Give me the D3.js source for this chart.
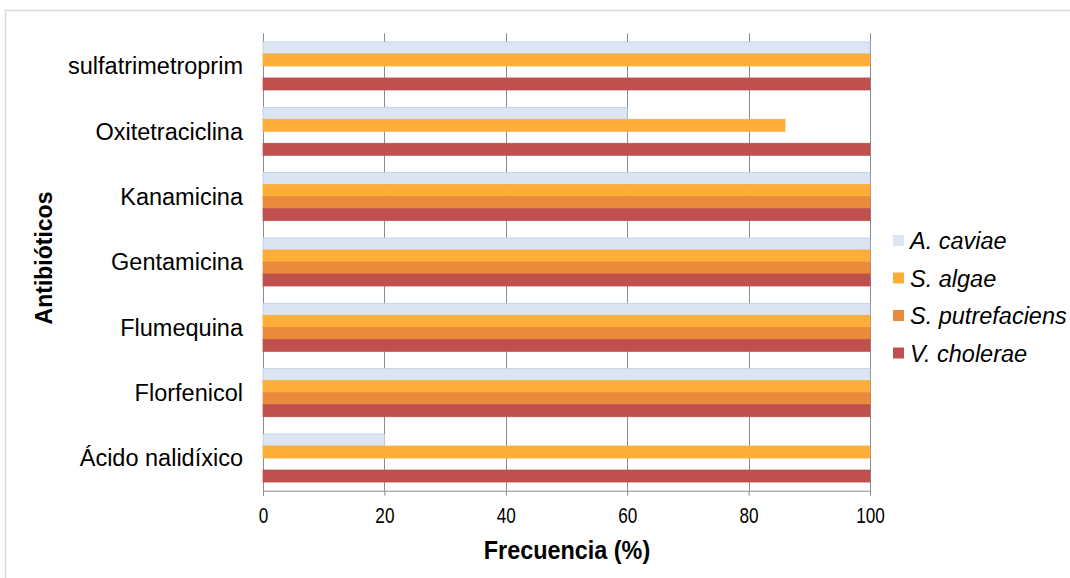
<!DOCTYPE html>
<html><head><meta charset="utf-8">
<script src="https://cdn.jsdelivr.net/npm/d3@7"></script>
<style>
body{margin:0;background:#fff;}
svg{display:block;}
.cat{font-family:"Liberation Sans",Arial,sans-serif;font-size:23.5px;fill:#000;}
.leg{font-family:"Liberation Sans",Arial,sans-serif;font-size:23.5px;font-style:italic;fill:#000;}
.tick text{font-family:"Liberation Sans",Arial,sans-serif;font-size:22px;fill:#000;}
.xt{font-family:"Liberation Sans",Arial,sans-serif;font-size:26px;font-weight:bold;}
.yt{font-family:"Liberation Sans",Arial,sans-serif;font-size:23px;font-weight:bold;}
</style></head>
<body><svg id="c" width="1070" height="578"></svg>
<script>
const categories = ["sulfatrimetroprim","Oxitetraciclina","Kanamicina","Gentamicina","Flumequina","Florfenicol","Ácido nalidíxico"];
const seriesNames = ["A. caviae","S. algae","S. putrefaciens","V. cholerae"];
const aCaviae       = [100, 60, 100, 100, 100, 100, 20];
const sAlgae        = [100, 86, 100, 100, 100, 100, 100];
const sPutrefaciens = [0, 0, 100, 100, 100, 100, 0];
const vCholerae     = [100, 100, 100, 100, 100, 100, 100];
const xTicks = [0,20,40,60,80,100];
const colors = ["#dce6f2","#fdae38","#e98b3d","#c0504d"];
const strokes = ["#b9cde5","#fdae38","#e98b3d","#c0504d"];

const seriesVals = [aCaviae, sAlgae, sPutrefaciens, vCholerae];
const svg = d3.select("#c");
const L=263, R=870, T=33.3, B=490.7;

svg.append("rect").attr("x",5.5).attr("y",10.5).attr("width",1080).attr("height",600)
  .attr("fill","#fff").attr("stroke","#d9d9d9").attr("stroke-width",1.5);

const x = d3.scaleLinear().domain([0,100]).range([L,R]);
const y = d3.scaleBand().domain(categories).range([T,B]).padding(0);
const inner = d3.scaleBand().domain(seriesNames).range([0,48]).padding(0);

// gridlines
svg.append("g").selectAll("line").data(xTicks).join("line")
  .attr("x1",d=>Math.round(x(d))+0.5).attr("x2",d=>Math.round(x(d))+0.5)
  .attr("y1",T).attr("y2",B).attr("stroke","#8c8c8c").attr("stroke-width",1);

// bars
const g = svg.append("g");
categories.forEach((c,i)=>{
  const y0 = y(c) + y.bandwidth()/2 - 24;
  seriesNames.forEach((s,j)=>{
    const v = seriesVals[j][i];
    if(v<=0) return;
    g.append("rect").attr("x",x(0)).attr("y",y0+inner(s))
      .attr("width",x(v)-x(0)).attr("height",inner.bandwidth())
      .attr("fill",colors[j]).attr("stroke",strokes[j]).attr("stroke-width",0.8);
  });
});

// x axis
const xa = svg.append("g").attr("transform",`translate(0,${B})`)
  .call(d3.axisBottom(x).tickValues(xTicks).tickSize(5).tickPadding(12));
xa.select(".domain").attr("stroke","#8c8c8c");
xa.selectAll(".tick line").attr("stroke","#8c8c8c");
xa.selectAll(".tick text").attr("transform","scale(0.78,1)");

// category labels
svg.append("g").selectAll("text").data(categories).join("text").attr("class","cat")
  .attr("x",243).attr("y",d=>y(d)+y.bandwidth()/2).attr("dy","0.35em")
  .attr("text-anchor","end").text(d=>d);

// axis titles
svg.append("text").attr("class","xt").attr("transform","translate(567,559) scale(0.9,1)")
  .attr("text-anchor","middle").text("Frecuencia (%)");
svg.append("text").attr("class","yt").attr("transform","translate(52,258) rotate(-90)")
  .attr("text-anchor","middle").text("Antibióticos");

// legend
const leg = svg.append("g").selectAll("g").data(seriesNames).join("g")
  .attr("transform",(d,i)=>`translate(893,${241+i*37.5})`);
leg.append("rect").attr("x",0).attr("y",-6).attr("width",11).attr("height",11)
  .attr("fill",(d,i)=>colors[i]);
leg.append("text").attr("class","leg").attr("x",17).attr("y",0).attr("dy","0.35em").text(d=>d);
</script></body></html>
